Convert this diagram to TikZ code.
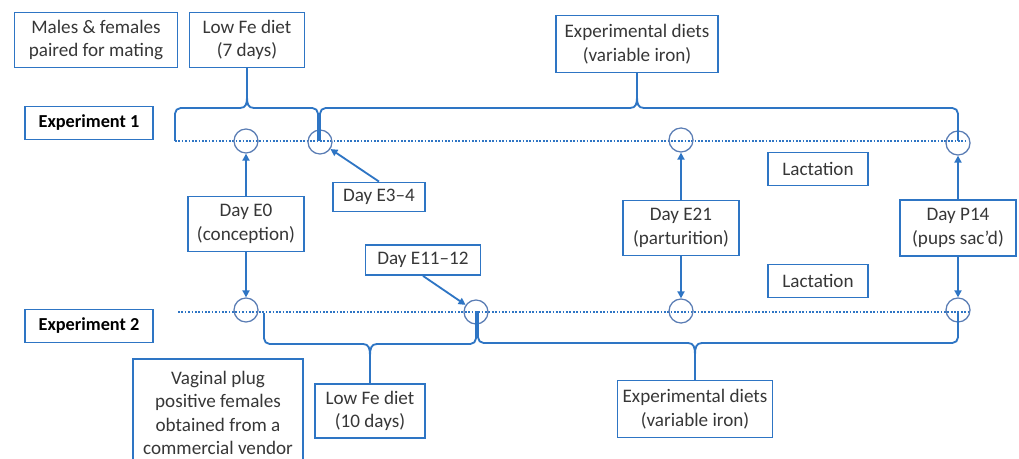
\documentclass[tikz,border=0pt]{standalone}
\usepackage{fontspec}
\setmainfont{Carlito}
\usetikzlibrary{arrows.meta}
\definecolor{boxblue}{RGB}{46,117,196}
\definecolor{circblue}{RGB}{90,125,180}
\definecolor{txtgray}{RGB}{55,55,55}
\newcommand{\TimeBrace}[7]{ % left x, right x, tip x, end y, bar y, tip y, tip name
\coordinate (#7) at (#3,#6);
\draw[timebrace, rounded corners=4pt] (#1,#4) -- (#1,#5) -- ({#3-7},#5);
\draw[timebrace] ({#3-7},#5) .. controls ({#3-1},#5) and (#3,{#5+(#6-#5)*0.4}) .. (#7);
\draw[timebrace] (#7) .. controls (#3,{#5+(#6-#5)*0.4}) and ({#3+1},#5) .. ({#3+7},#5);
\draw[timebrace, rounded corners=4pt] ({#3+7},#5) -- (#2,#5) -- (#2,#4);
}

\begin{document}
\begin{tikzpicture}[x=0.025cm, y=-0.025cm,
box/.style={draw=boxblue, line width=1.3pt, fill=white, align=center, text=txtgray,
  font=\fontsize{13.6}{16.8}\selectfont, inner sep=2pt},
explabel/.style={box, font=\fontsize{13}{17}\selectfont\bfseries, text=black, minimum width=3.2cm, minimum height=0.825cm},
daymark/.style={draw=circblue, line width=0.9pt, circle, minimum size=0.6cm, inner sep=0},
timeline/.style={boxblue, line width=1.4pt, dash pattern=on 1.2pt off 1.2pt},
timebrace/.style={boxblue, line width=1.3pt},
pointer/.style={boxblue, line width=1.3pt, -{Triangle[length=5pt,width=5pt]}},
]
\useasboundingbox (0,0) rectangle (1019,459);
\clip (0,0) rectangle (1019,459);

%%%%%%%%%%%%%%%%%%%%%%%% EXPERIMENT 1 %%%%%%%%%%%%%%%%%%%%%%%%
\node[box, minimum width=4.075cm, minimum height=1.375cm] (mating) at (96,40) {Males \& females\\paired for mating};
\node[box, minimum width=2.875cm, minimum height=1.375cm] (lowfe7) at (247,40) {Low Fe diet\\(7 days)};
\node[box, minimum width=4.05cm, minimum height=1.425cm] (expdiet1) at (637,44) {Experimental diets\\(variable iron)};
\node[explabel] (exp1) at (89,123) {Experiment 1};

\coordinate (TL1start) at (175,141);
\coordinate (TL1end) at (968,141);
\draw[timeline] (TL1start) -- (TL1end);

\node[daymark] (c1a) at (246,141) {};
\node[daymark] (c1b) at (320,142) {};
\node[daymark] (c1c) at (681,140) {};
\node[daymark] (c1d) at (958,143) {};

\TimeBrace{175}{318}{247}{141}{108}{97}{tipA}
\TimeBrace{320}{958}{637}{141}{108}{97}{tipB}
\draw[timebrace] (tipA) -- (lowfe7.south);
\draw[timebrace] (tipB) -- (expdiet1.south);

%%%%%%%%%%%%%%%%%%%%%%%% DAYS %%%%%%%%%%%%%%%%%%%%%%%%
\node[box, minimum width=2.9cm, minimum height=1.375cm] (E0) at (246,224) {Day E0\\(conception)};
\node[box, minimum width=2.3cm, minimum height=0.725cm] (E34) at (379,197) {Day E3--4};
\node[box, minimum width=2.5cm, minimum height=0.825cm] (lact1) at (818,169) {Lactation};
\node[box, minimum width=2.9cm, minimum height=1.375cm] (E21) at (681,228) {Day E21\\(parturition)};
\node[box, minimum width=2.9cm, minimum height=1.4cm] (P14) at (958,228) {Day P14\\(pups sac’d)};
\node[box, minimum width=2.5cm, minimum height=0.825cm] (lact2) at (818,281) {Lactation};
\node[box, minimum width=2.875cm, minimum height=0.75cm] (E1112) at (423,260) {Day E11--12};

%%%%%%%%%%%%%%%%%%%%%%%% EXPERIMENT 2 %%%%%%%%%%%%%%%%%%%%%%%%
\node[explabel] (exp2) at (89,326) {Experiment 2};

\coordinate (TL2start) at (178,312);
\coordinate (TL2end) at (970,312);
\draw[timeline] (TL2start) -- (TL2end);

\node[daymark] (c2a) at (246,310) {};
\node[daymark] (c2b) at (476,312) {};
\node[daymark] (c2c) at (681,311) {};
\node[daymark] (c2d) at (958,310) {};

\TimeBrace{264}{476}{370}{313}{344}{356}{tipC}
\TimeBrace{478}{958}{695}{311}{343}{355}{tipD}

\node[box, minimum width=4.25cm, minimum height=2.7cm, anchor=north] (vendor) at (218,358) {Vaginal plug\\positive females\\obtained from a\\commercial vendor};
\node[box, minimum width=2.75cm, minimum height=1.35cm] (lowfe10) at (370,411) {Low Fe diet\\(10 days)};
\node[box, minimum width=3.875cm, minimum height=1.425cm] (expdiet2) at (695,409) {Experimental diets\\(variable iron)};
\draw[timebrace] (tipC) -- (lowfe10.north);
\draw[timebrace] (tipD) -- (expdiet2.north);

%%%%%%%%%%%%%%%%%%%%%%%% ARROWS %%%%%%%%%%%%%%%%%%%%%%%%
\draw[pointer] (E0) -- (c1a);
\draw[pointer] (E0) -- (c2a);
\draw[pointer] (E34.north) -- (c1b);
\draw[pointer] (E21) -- (c1c);
\draw[pointer] (E21) -- (c2c);
\draw[pointer] (P14) -- (c1d);
\draw[pointer] (P14) -- (c2d);
\draw[pointer] (E1112.south) -- (c2b);

\end{tikzpicture}
\end{document}
